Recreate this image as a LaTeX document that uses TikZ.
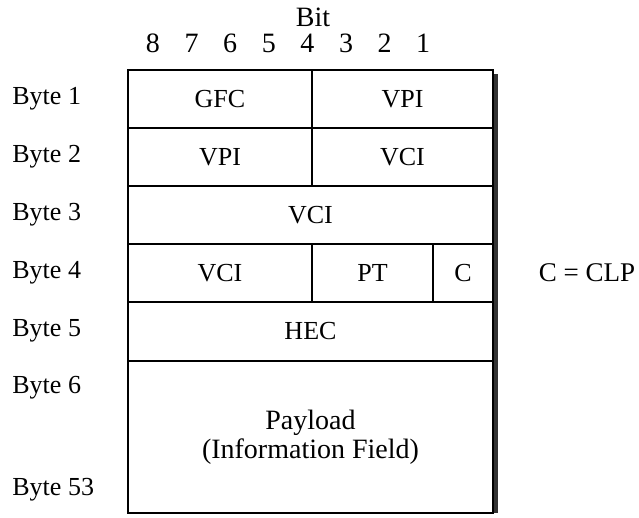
\documentclass[tikz,border=0pt]{standalone}
\usepackage{fontspec}
\setmainfont{Liberation Serif}
\begin{document}
\begin{tikzpicture}[x=0.5pt,y=-0.5pt,
  cell/.style={draw,line width=1pt,inner sep=0pt,minimum height=29pt,font=\fontsize{13}{15}\selectfont},
  bytelbl/.style={anchor=west,inner sep=0pt,font=\fontsize{13}{15}\selectfont},
  bitlbl/.style={inner sep=0pt,font=\fontsize{14}{16}\selectfont}]
  \useasboundingbox (0,0) rectangle (639,518);
  \fill[black!80] (493,74) rectangle (498,513);
  \node[bitlbl] (bit) at (313,17) {Bit};
  \foreach \b [count=\i from 0] in {8,7,6,5,4,3,2,1}
    \node[bitlbl] (bit\b) at (153+38.6*\i,43) {\b};
  \node[cell,minimum width=92pt] (gfc) at (220,99) {GFC};
  \node[cell,minimum width=90.5pt] (vpia) at (402.5,99) {VPI};
  \node[cell,minimum width=92pt] (vpib) at (220,157) {VPI};
  \node[cell,minimum width=90.5pt] (vcia) at (402.5,157) {VCI};
  \node[cell,minimum width=182.5pt] (vcib) at (310.5,215) {VCI};
  \node[cell,minimum width=92pt] (vcic) at (220,273) {VCI};
  \node[cell,minimum width=60.5pt] (pt) at (372.5,273) {PT};
  \node[cell,minimum width=30pt] (clp) at (463,273) {C};
  \node[cell,minimum width=182.5pt,minimum height=29.5pt] (hec) at (310.5,331.5) {HEC};
  \node[cell,minimum width=182.5pt,minimum height=76pt,align=center,
        font=\fontsize{14}{14.5}\selectfont] (payload) at (310.5,437) {Payload\\(Information Field)};
  \node[bytelbl] (byte1) at (12,99) {Byte 1};
  \node[bytelbl] (byte2) at (12,157) {Byte 2};
  \node[bytelbl] (byte3) at (12,215) {Byte 3};
  \node[bytelbl] (byte4) at (12,273) {Byte 4};
  \node[bytelbl] (byte5) at (12,331) {Byte 5};
  \node[bytelbl] (byte6) at (12,388) {Byte 6};
  \node[bytelbl] (byte53) at (12,490) {Byte 53};
  \node[bitlbl,font=\fontsize{13.5}{15}\selectfont] (clpnote) at (587,273) {C = CLP};
\end{tikzpicture}
\end{document}
